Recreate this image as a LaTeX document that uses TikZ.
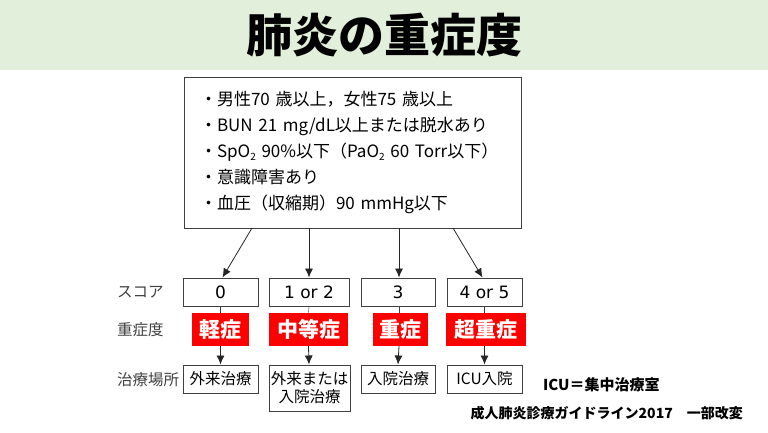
\documentclass[tikz,border=0pt]{standalone}
\usepackage{fontspec}
\setmainfont{Noto Sans CJK JP}
\newfontfamily\widelatin{DejaVu Sans}
\usepackage{tikz}
\usetikzlibrary{arrows.meta,positioning}
\definecolor{band}{HTML}{E2EFDA}
\definecolor{alert}{HTML}{FF0000}
\definecolor{edge}{HTML}{404040}
\newcommand\subtwo{\raisebox{-0.2em}{\fontsize{10}{10}\selectfont 2}}
\tikzstyle{critbox} = [rectangle, draw=edge, line width=1pt, minimum width=337pt, minimum height=151pt, text width=305pt, align=left, font=\fontsize{17}{26}\selectfont]
\tikzstyle{scorebox} = [rectangle, draw=edge, line width=1pt, minimum height=28pt, inner sep=0pt, font=\widelatin\fontsize{17}{20}\selectfont]
\tikzstyle{sevbox} = [rectangle, fill=alert, text=white, minimum height=33pt, inner sep=0pt, font=\bfseries\fontsize{21}{24}\selectfont]
\tikzstyle{placebox} = [rectangle, draw=edge, line width=1pt, inner sep=0pt, align=center, font=\fontsize{15.5}{18}\selectfont]
\tikzstyle{rowlabel} = [anchor=west, inner sep=0pt, text=edge, font=\fontsize{15.5}{18}\selectfont]
\tikzstyle{arrowline} = [-{Latex[length=9pt,width=8pt]}, line width=0.8pt, draw=black!85]

\begin{document}
\begin{tikzpicture}[x=1pt, y=-1pt]
\useasboundingbox (0,0) rectangle (768,432);
\node(title)[fill=band, minimum width=768pt, minimum height=70pt, inner sep=0pt, font=\bfseries\fontsize{46}{50}\selectfont] at (384,35) {肺炎の重症度};
\node(crit)[critbox] at (352.5,152.5) {・男性70 歳以上，女性75 歳以上\\
・BUN 21 mg/dL以上または脱水あり\\
・SpO\subtwo{} 90\%以下（PaO\subtwo{} 60 Torr以下）\\
・意識障害あり\\
・血圧（収縮期）90 mmHg以下};
% row labels
\node(Lscore)[rowlabel] at (117,292) {スコア};
\node(Lsev)[rowlabel] at (117,330) {重症度};
\node(Lplace)[rowlabel] at (117,380) {治療場所};
% score
\node(S0)[scorebox, minimum width=75pt] at (220.5,292) {0};
\node(S1)[scorebox, minimum width=80pt] at (309,292) {1 or 2};
\node(S2)[scorebox, minimum width=74pt] at (398,292) {3};
\node(S3)[scorebox, minimum width=75pt] at (484.5,292) {4 or 5};
% severity
\node(V0)[sevbox, minimum width=57pt] at (220.5,329.5) {軽症};
\node(V1)[sevbox, minimum width=79pt] at (308.5,329.5) {中等症};
\node(V2)[sevbox, minimum width=55pt] at (400.5,329.5) {重症};
\node(V3)[sevbox, minimum width=80pt] at (486,329.5) {超重症};
% place
\node(P0)[placebox, minimum width=75pt, minimum height=28pt] at (220.5,379) {外来治療};
\node(P1)[placebox, minimum width=81pt, minimum height=46pt] at (309.5,388) {外来または\\入院治療};
\node(P2)[placebox, minimum width=74pt, minimum height=28pt] at (398,379) {入院治療};
\node(P3)[placebox, minimum width=75pt, minimum height=28pt] at (484.5,379) {ICU入院};
% notes
\node(icu)[anchor=west, inner sep=0pt, font=\bfseries\fontsize{15}{18}\selectfont] at (543,385) {ICU＝集中治療室};
\node(src)[anchor=east, inner sep=0pt, font=\bfseries\fontsize{14}{16}\selectfont] at (743,413) {成人肺炎診療ガイドライン2017　一部改変};
\coordinate (F0) at (252,228);
\coordinate (F1) at (309,228);
\coordinate (F2) at (399,228);
\coordinate (F3) at (453,228);
\draw[arrowline](F0)--([xshift=2pt]S0.north);
\draw[arrowline](F1)--(S1.north);
\draw[arrowline](F2)--([xshift=1pt]S2.north);
\draw[arrowline](F3)--([xshift=-2pt]S3.north);
\draw[draw=edge](S0.south)--(V0.north);
\draw[draw=edge](S1.south)--(V1.north);
\draw[draw=edge]([xshift=1pt]S2.south)--([xshift=-1.5pt]V2.north);
\draw[draw=edge](S3.south)--([xshift=-1.5pt]V3.north);
\draw[arrowline](V0.south)--(P0.north);
\draw[arrowline](V1.south)--([xshift=-0.5pt]P1.north);
\draw[arrowline]([xshift=-1.5pt]V2.south)--(P2.north);
\draw[arrowline]([xshift=-1.5pt]V3.south)--(P3.north);
\end{tikzpicture}
\end{document}
